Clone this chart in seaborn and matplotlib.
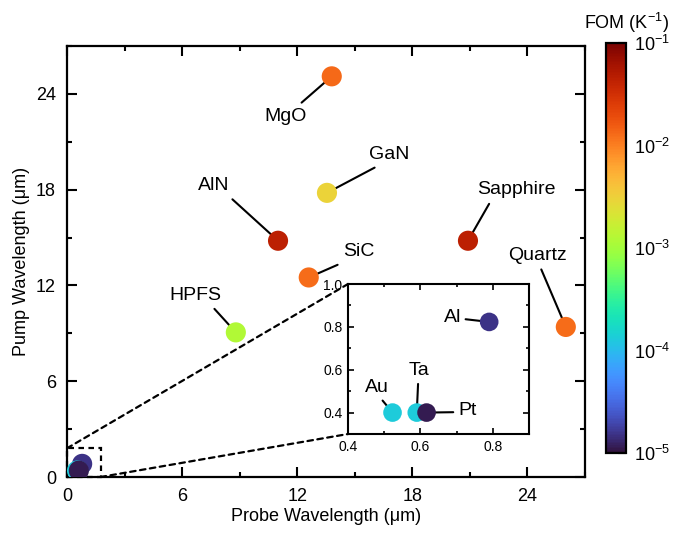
import matplotlib
matplotlib.use("Agg")
import matplotlib.pyplot as plt
import seaborn as sns
import numpy as np
import pandas as pd
from matplotlib.colors import LogNorm
from matplotlib.cm import ScalarMappable
from matplotlib.patches import Rectangle, ConnectionPatch
from matplotlib.ticker import MultipleLocator, LogLocator, NullLocator

sns.set_theme(style="white")
plt.rcParams['font.family'] = ['Liberation Sans', 'DejaVu Sans']
plt.rcParams['mathtext.default'] = 'regular'
plt.rcParams['axes.unicode_minus'] = True
plt.rcParams['text.color'] = 'black'
plt.rcParams['axes.labelcolor'] = 'black'
plt.rcParams['xtick.color'] = 'black'
plt.rcParams['ytick.color'] = 'black'

# ---------------- data ----------------
materials = ['MgO', 'GaN', 'AlN', 'Sapphire', 'SiC', 'Quartz', 'HPFS', 'Al', 'Au', 'Ta', 'Pt']
probe = [13.8, 13.55, 11.0, 20.9, 12.6, 26.0, 8.8, 0.79, 0.523, 0.59, 0.617]
pump = [25.1, 17.8, 14.8, 14.8, 12.5, 9.4, 9.06, 0.823, 0.40, 0.40, 0.40]
fom = [1.3e-2, 3.0e-3, 4.5e-2, 4.5e-2, 1.25e-2, 1.25e-2, 1.2e-3, 1.5e-5, 1.3e-4, 1.3e-4, 1.15e-5]

# label text positions (data coords) for main plot
main_labels = ['MgO', 'GaN', 'AlN', 'Sapphire', 'SiC', 'Quartz', 'HPFS']
main_lab_x = [11.37, 16.8, 7.67, 23.4, 15.2, 24.5, 6.70]
main_lab_y = [22.6, 20.2, 18.25, 18.0, 14.1, 13.9, 11.4]
main_relpos = [(0.75, 1.0), (0.35, 0.0), (0.9, 0.0), (0.2, 0.0), (0.15, 0.0), (0.53, 0.0), (0.77, 0.0)]

inset_labels = ['Al', 'Au', 'Ta', 'Pt']
inset_lab_x = [0.688, 0.479, 0.597, 0.729]
inset_lab_y = [0.842, 0.516, 0.595, 0.41]
inset_relpos = [(1.0, 0.45), (0.6, 0.0), (0.45, 0.0), (0.0, 0.4)]

df = pd.DataFrame({'material': materials, 'probe': probe, 'pump': pump, 'fom': fom})
norm = LogNorm(vmin=1e-5, vmax=1e-1)
cmap = 'turbo'

fig = plt.figure(figsize=(6.76, 5.4), dpi=100)
ax = fig.add_axes([67/676, 1-477/540, (585-67)/676, (477-46)/540])

sns.scatterplot(data=df, x='probe', y='pump', hue='fom', hue_norm=norm, palette=cmap,
                s=210, linewidth=0, legend=False, ax=ax, zorder=4)

ax.set_xlim(0, 27)
ax.set_ylim(0, 27)
ax.xaxis.set_major_locator(MultipleLocator(6))
ax.xaxis.set_minor_locator(MultipleLocator(3))
ax.yaxis.set_major_locator(MultipleLocator(6))
ax.yaxis.set_minor_locator(MultipleLocator(3))
ax.tick_params(which='both', direction='in', top=True, right=True, bottom=True, left=True,
               width=1.5, colors='black')
ax.tick_params(which='major', length=7, labelsize=13, pad=8)
ax.tick_params(which='minor', length=3.5)
for sp in ax.spines.values():
    sp.set_linewidth(1.6)
    sp.set_color('black')
ax.set_xlabel('Probe Wavelength (μm)', fontsize=13, labelpad=2)
ax.set_ylabel('Pump Wavelength (μm)', fontsize=13, labelpad=4)

for lab, tx, ty, rp in zip(main_labels, main_lab_x, main_lab_y, main_relpos):
    row = df[df.material == lab].iloc[0]
    ax.annotate(lab, xy=(row.probe, row.pump), xytext=(tx, ty), textcoords='data',
                ha='center', va='center', fontsize=14, zorder=2,
                arrowprops=dict(arrowstyle='-', lw=1.5, color='black', relpos=rp,
                                shrinkA=2, shrinkB=0))

# zoom rectangle
ax.add_patch(Rectangle((0, 0), 1.75, 1.8, fill=False, ls=(0, (2.5, 2)), lw=1.6,
                       edgecolor='black', zorder=3, clip_on=False))

# inset
axin = fig.add_axes([348/676, 1-434/540, (529-348)/676, (434-284)/540])
sns.scatterplot(data=df[df.probe < 1], x='probe', y='pump', hue='fom', hue_norm=norm,
                palette=cmap, s=180, linewidth=0, legend=False, ax=axin, zorder=4)
axin.set_xlim(0.4, 0.9)
axin.set_ylim(0.3, 1.0)
axin.xaxis.set_major_locator(MultipleLocator(0.2))
axin.xaxis.set_minor_locator(MultipleLocator(0.1))
axin.yaxis.set_major_locator(MultipleLocator(0.2))
axin.yaxis.set_minor_locator(MultipleLocator(0.1))
axin.tick_params(which='both', direction='in', top=True, right=True, bottom=True, left=True,
                 width=1.2, colors='black')
axin.tick_params(which='major', length=4, labelsize=10, pad=4)
axin.tick_params(which='minor', length=2.5)
axin.set_xlabel('')
axin.set_ylabel('')
for sp in axin.spines.values():
    sp.set_linewidth(1.5)
    sp.set_color('black')

for lab, tx, ty, rp in zip(inset_labels, inset_lab_x, inset_lab_y, inset_relpos):
    row = df[df.material == lab].iloc[0]
    axin.annotate(lab, xy=(row.probe, row.pump), xytext=(tx, ty), textcoords='data',
                  ha='center', va='center', fontsize=14, zorder=2,
                  arrowprops=dict(arrowstyle='-', lw=1.5, color='black', relpos=rp,
                                  shrinkA=1, shrinkB=0))

# connecting dashed lines
for (xa, ya), (xb, yb) in [((0, 1.8), (0, 1)), ((1.75, 0), (0, 0))]:
    cp = ConnectionPatch(xyA=(xa, ya), coordsA=ax.transData, xyB=(xb, yb),
                         coordsB=axin.transAxes, ls=(0, (2.5, 2)), lw=1.6, color='black',
                         zorder=3)
    fig.add_artist(cp)

# colorbar
cax = fig.add_axes([606/676, 1-453/540, 20/676, (453-43)/540])
sm = ScalarMappable(norm=norm, cmap=cmap)
cb = fig.colorbar(sm, cax=cax)
cb.outline.set_linewidth(1.6)
cb.outline.set_edgecolor('black')
cax.yaxis.set_major_locator(LogLocator(base=10, numticks=10))
cax.yaxis.set_minor_locator(NullLocator())
cax.tick_params(which='major', direction='in', length=6, width=1.5, labelsize=13, pad=6,
                colors='black', right=True)
cax.set_title('FOM (K$^{-1}$)', fontsize=13, pad=10, x=1.0)

fig.savefig('out.png', dpi=100)
